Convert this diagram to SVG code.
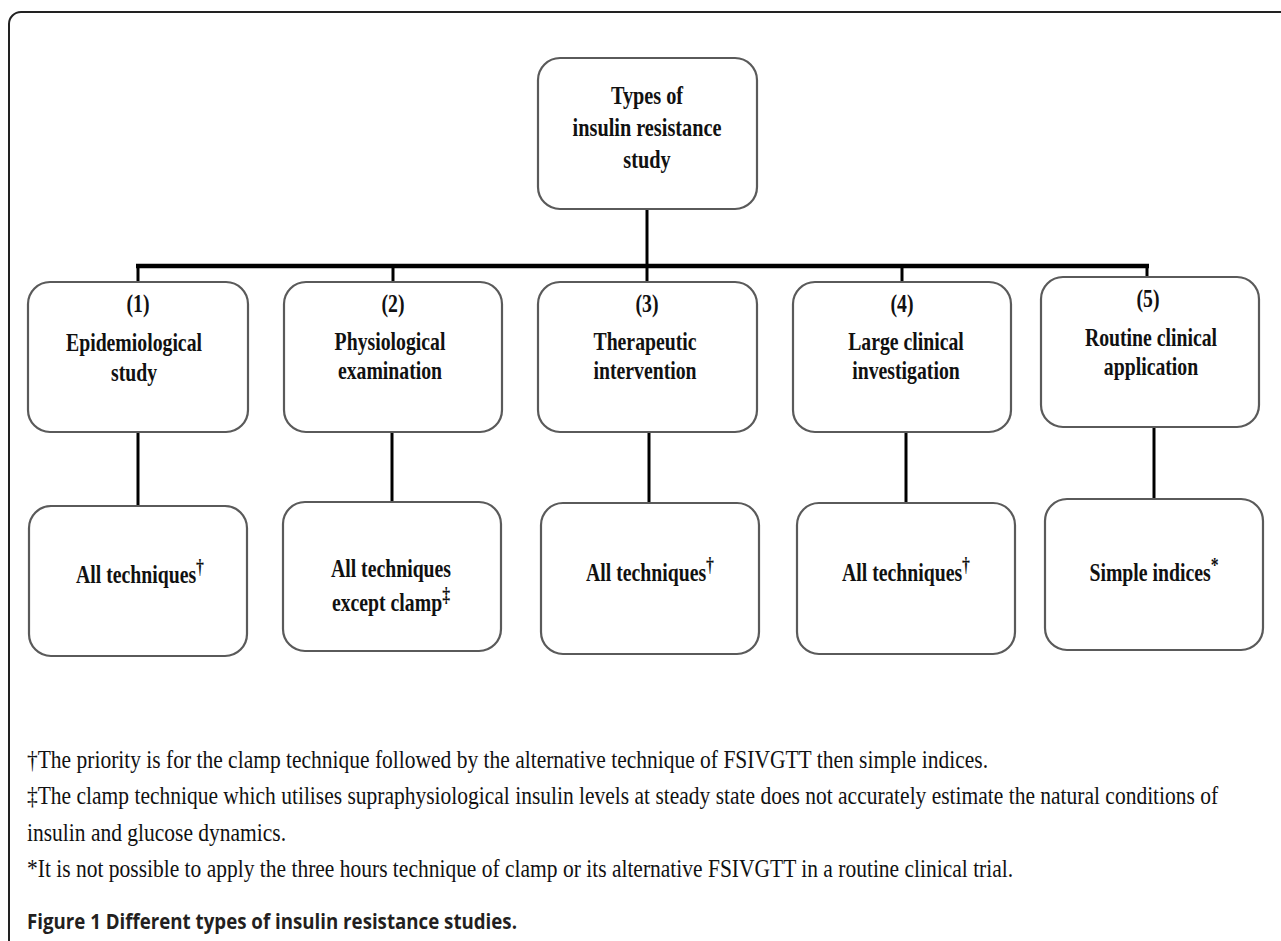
<svg xmlns="http://www.w3.org/2000/svg" width="1281" height="941" viewBox="0 0 1281 941">
<style>
.frame{fill:none;stroke:#222;stroke-width:2}
.box{fill:#fff;stroke:#5a5a5a;stroke-width:2.2}
.lbl{font-family:"Liberation Serif","Times New Roman",serif;font-weight:bold;font-size:25px;fill:#111;text-anchor:middle}
.top{font-size:26px}
.sup{font-size:20px}
.conn{stroke:#000;stroke-width:3;fill:none}
.bus{stroke:#000;stroke-width:4.5;fill:none}
.note{font-family:"Liberation Serif","Times New Roman",serif;font-size:26px;fill:#111}
.cap{font-family:"Open Sans","Liberation Sans",sans-serif;font-size:21px;font-weight:bold;fill:#231f20}
</style>
<rect width="1281" height="941" fill="#fff"/>
<rect class="frame" x="9" y="12" width="1300" height="960" rx="12"/>

<g id="connectors">
  <line class="bus" x1="136" y1="266" x2="1149" y2="266"/>
  <line class="conn" x1="138" y1="266" x2="138" y2="282"/>
  <line class="conn" x1="393" y1="266" x2="393" y2="282"/>
  <line class="conn" x1="647" y1="209" x2="647" y2="282"/>
  <line class="conn" x1="902" y1="266" x2="902" y2="282"/>
  <line class="conn" x1="1147" y1="266" x2="1147" y2="277"/>
  <line class="conn" x1="138" y1="432" x2="138" y2="506"/>
  <line class="conn" x1="392" y1="432" x2="392" y2="502"/>
  <line class="conn" x1="649" y1="432" x2="649" y2="503"/>
  <line class="conn" x1="906" y1="432" x2="906" y2="503"/>
  <line class="conn" x1="1154" y1="427" x2="1154" y2="499"/>
</g>

<g id="node-root">
  <rect class="box" x="538" y="58" width="219" height="151" rx="22"/>
  <text class="lbl top" transform="translate(647,104) scale(0.78,1)">Types of</text>
  <text class="lbl top" transform="translate(647,136) scale(0.78,1)">insulin resistance</text>
  <text class="lbl top" transform="translate(647,168) scale(0.78,1)">study</text>
</g>

<g id="node-1">
  <rect class="box" x="28" y="282" width="220" height="150" rx="22"/>
  <text class="lbl" transform="translate(138,312) scale(0.79,1)">(1)</text>
  <text class="lbl" transform="translate(134,351) scale(0.79,1)">Epidemiological</text>
  <text class="lbl" transform="translate(134,381) scale(0.79,1)">study</text>
</g>
<g id="node-2">
  <rect class="box" x="284" y="282" width="218" height="150" rx="22"/>
  <text class="lbl" transform="translate(393,312) scale(0.79,1)">(2)</text>
  <text class="lbl" transform="translate(390,350) scale(0.79,1)">Physiological</text>
  <text class="lbl" transform="translate(390,379) scale(0.79,1)">examination</text>
</g>
<g id="node-3">
  <rect class="box" x="538" y="282" width="219" height="150" rx="22"/>
  <text class="lbl" transform="translate(647,312) scale(0.79,1)">(3)</text>
  <text class="lbl" transform="translate(645,350) scale(0.79,1)">Therapeutic</text>
  <text class="lbl" transform="translate(645,379) scale(0.79,1)">intervention</text>
</g>
<g id="node-4">
  <rect class="box" x="793" y="282" width="218" height="150" rx="22"/>
  <text class="lbl" transform="translate(902,312) scale(0.79,1)">(4)</text>
  <text class="lbl" transform="translate(906,350) scale(0.79,1)">Large clinical</text>
  <text class="lbl" transform="translate(906,379) scale(0.79,1)">investigation</text>
</g>
<g id="node-5">
  <rect class="box" x="1041" y="277" width="218" height="150" rx="22"/>
  <text class="lbl" transform="translate(1148,307) scale(0.79,1)">(5)</text>
  <text class="lbl" transform="translate(1151,346) scale(0.79,1)">Routine clinical</text>
  <text class="lbl" transform="translate(1151,375) scale(0.79,1)">application</text>
</g>

<g id="node-1b">
  <rect class="box" x="29" y="506" width="218" height="150" rx="22"/>
  <text class="lbl" transform="translate(140,583) scale(0.79,1)">All techniques<tspan class="sup" dy="-9">†</tspan></text>
</g>
<g id="node-2b">
  <rect class="box" x="283" y="502" width="218" height="149" rx="22"/>
  <text class="lbl" transform="translate(391,577) scale(0.79,1)">All techniques</text>
  <text class="lbl" transform="translate(391,611) scale(0.79,1)">except clamp<tspan class="sup" dy="-9">‡</tspan></text>
</g>
<g id="node-3b">
  <rect class="box" x="541" y="503" width="218" height="151" rx="22"/>
  <text class="lbl" transform="translate(650,581) scale(0.79,1)">All techniques<tspan class="sup" dy="-9">†</tspan></text>
</g>
<g id="node-4b">
  <rect class="box" x="797" y="503" width="218" height="151" rx="22"/>
  <text class="lbl" transform="translate(906,581) scale(0.79,1)">All techniques<tspan class="sup" dy="-9">†</tspan></text>
</g>
<g id="node-5b">
  <rect class="box" x="1045" y="499" width="218" height="151" rx="22"/>
  <text class="lbl" transform="translate(1154,581) scale(0.79,1)">Simple indices<tspan class="sup" dy="-9">*</tspan></text>
</g>

<g id="footnotes" transform="translate(27,0) scale(0.827,1)">
  <text class="note" x="0" y="768">†The priority is for the clamp technique followed by the alternative technique of FSIVGTT then simple indices.</text>
  <text class="note" x="0" y="804">‡The clamp technique which utilises supraphysiological insulin levels at steady state does not accurately estimate the natural conditions of</text>
  <text class="note" x="0" y="841">insulin and glucose dynamics.</text>
  <text class="note" x="0" y="877">*It is not possible to apply the three hours technique of clamp or its alternative FSIVGTT in a routine clinical trial.</text>
</g>
<g id="caption">
  <text class="cap" x="27" y="929" textLength="490" lengthAdjust="spacingAndGlyphs">Figure 1 Different types of insulin resistance studies.</text>
</g>
</svg>
